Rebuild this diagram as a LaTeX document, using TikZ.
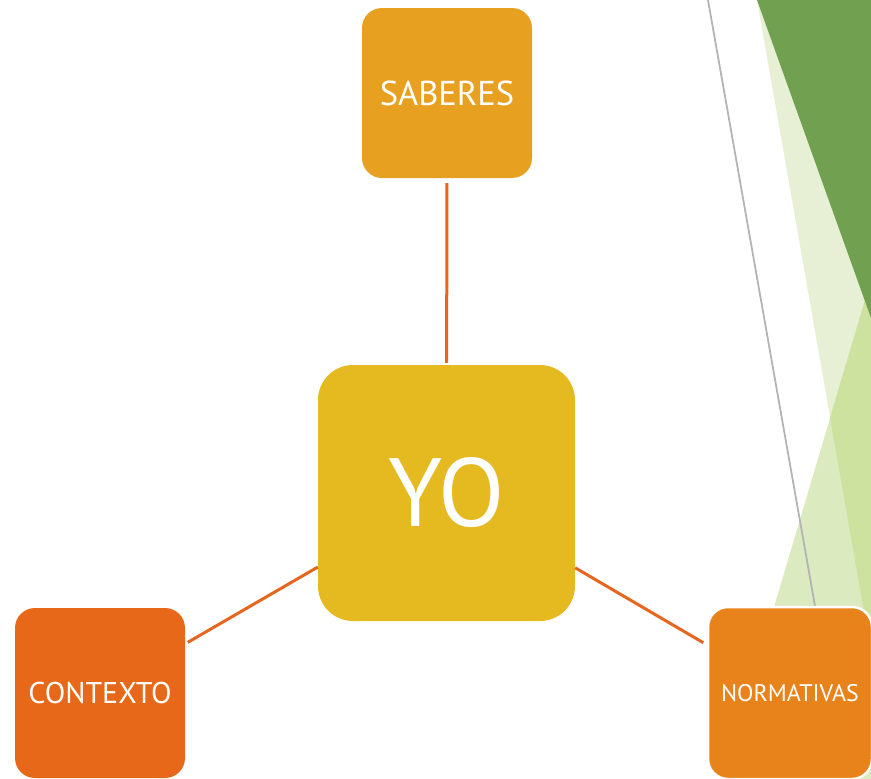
\documentclass[tikz,border=0pt]{standalone}
\usepackage{fontspec}
\setmainfont{PT Sans}
\definecolor{cSab}{HTML}{E8A020}
\definecolor{cYo}{HTML}{E5BA20}
\definecolor{cCon}{HTML}{E8681A}
\definecolor{cNor}{HTML}{E8821A}
\definecolor{cLink}{HTML}{E4661F}
\definecolor{gDark}{HTML}{71A050}
\definecolor{gPale}{HTML}{E7F0D5}
\definecolor{gMid}{HTML}{DCEAC0}
\definecolor{gOver}{HTML}{CEE2A0}
\definecolor{gLine}{HTML}{B4B4B4}
\tikzset{
  tile/.style={rectangle, rounded corners=20pt, inner sep=0pt, text=white,
    minimum width=170pt, minimum height=170pt, font=\fontsize{32}{32}\selectfont},
  link/.style={draw=cLink, line width=3pt}
}
\begin{document}
\begin{tikzpicture}[x=1pt, y=-1pt]
\useasboundingbox (0,0) rectangle (871,779);
% background facets
\fill[gPale] (757,0) -- (871,0) -- (871,651) -- cycle;
\fill[gMid] (871,280) -- (723,779) -- (871,779) -- cycle;
\fill[gOver] (871,280) -- (830,418) -- (871,651) -- cycle;
\fill[gDark] (757,0) -- (871,0) -- (871,318) -- cycle;
\coordinate (g1) at (708,0);
\coordinate (g2) at (815,606);
\draw[gLine, line width=1.8pt] (g1) -- (g2);
% nodes
\node[tile, fill=cSab, font=\fontsize{34.5}{34.5}\selectfont] (sab) at (447,93) {SABERES};
\node[tile, fill=cYo, minimum width=257pt, minimum height=256pt, rounded corners=35pt,
  font=\fontsize{97}{97}\selectfont] (yo) at (446.5,493) {YO};
\node[tile, fill=cCon, font=\fontsize{30}{30}\selectfont] (con) at (100,693) {CONTEXTO};
\node[tile, fill=cNor, draw=white, line width=2.5pt, minimum width=164pt, minimum height=172pt,
  font=\fontsize{24}{24}\selectfont] (nor) at (790,693) {NORMATIVAS};
% connectors
\draw[link, shorten <=5pt, shorten >=2pt] (sab) -- (yo);
\draw[link, shorten >=3pt] (yo) -- (con);
\draw[link, shorten >=4pt] (yo) -- (nor);
\end{tikzpicture}
\end{document}
